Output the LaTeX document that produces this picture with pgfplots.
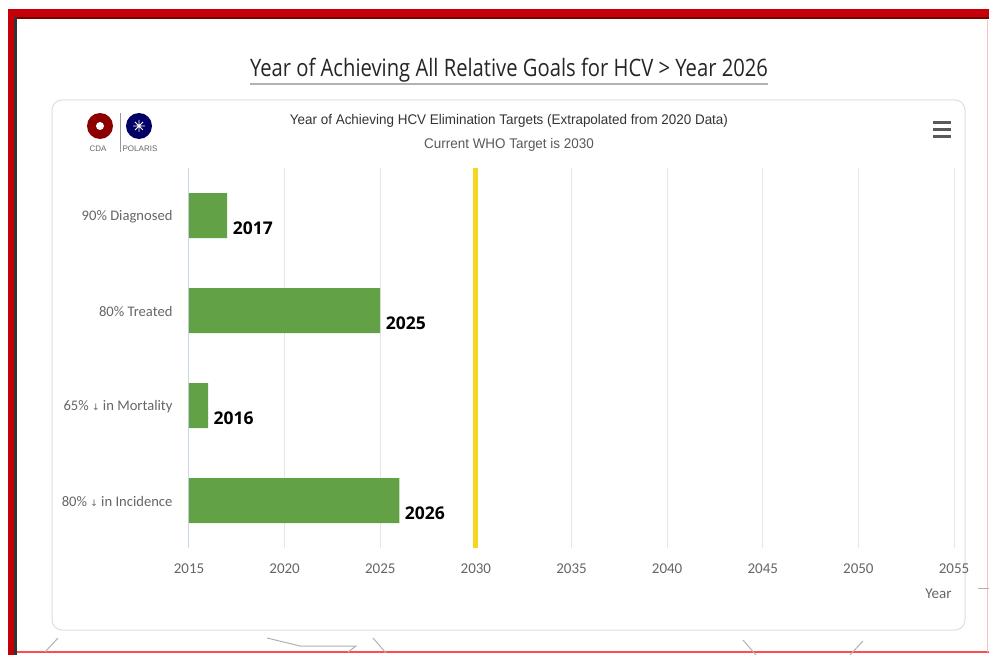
\documentclass[border=0pt]{standalone}
\usepackage{pgfplots}
\pgfplotsset{compat=1.18}
\usepackage{fontspec}
\setmainfont{Carlito}
\newfontfamily\opensans{Open Sans}
\newfontfamily\arial{Liberation Sans}
\newfontfamily\dejavu{DejaVu Sans}
\definecolor{barg}{RGB}{99,161,70}
\definecolor{tickgray}{RGB}{102,102,102}
\definecolor{gridc}{RGB}{230,230,230}
\definecolor{axisc}{RGB}{204,214,235}
\definecolor{whoy}{RGB}{245,215,30}
\definecolor{frred}{RGB}{196,0,8}
\definecolor{frdark}{RGB}{120,0,0}
\newcommand{\dn}{{\dejavu\fontsize{9pt}{9pt}\selectfont ↓}}
\begin{document}
\begin{tikzpicture}[x=1pt,y=-1pt]
\path[use as bounding box, fill=white] (0,0) rectangle (989,655);
% red frame
\fill[frred] (8,9) rectangle (989,19);
\fill[frdark] (17,17) rectangle (989,19);
\fill[frred] (8,9) rectangle (17,655);
\fill[black!80] (14,17) rectangle (17,655);
\draw[red!70, line width=1.5pt] (17,652) -- (989,652);
\draw[red!25, line width=1pt] (987,20) -- (987,652);
% faint decorations
\begin{scope}[black!30, line width=1pt]
\draw (45,652) -- (58,638);
\draw (267,638) -- (300,646) -- (356,646) -- (348,652);
\draw (373,638) -- (386,653);
\draw (743,640) -- (756,655);
\draw (850,655) -- (863,641);
\draw (978,588) -- (989,588);
\end{scope}
% title
\node[text=black!85, font=\opensans\fontsize{24pt}{24pt}\selectfont] at (509,70) {\scalebox{0.842}[1]{Year of Achieving All Relative Goals for HCV > Year 2026}};
\draw[black!30, line width=2pt] (250,84) -- (768,84);
% card
\draw[black!13, line width=1pt, rounded corners=10pt] (52,100) rectangle (965,630);
% logos
\fill[red!55!black] (100,126) circle (13);
\fill[white] (100,126) circle (4);
\draw[black!40] (120,113) -- (120,152);
\fill[blue!40!black] (139,126) circle (13);
\draw[white, line width=0.8pt] (133,126) -- (145,126) (139,120) -- (139,132) (135,122) -- (143,130) (135,130) -- (143,122);
\node[text=black!60, font=\arial\fontsize{8pt}{8pt}\selectfont] at (98,149) {CDA};
\node[text=black!60, font=\arial\fontsize{8pt}{8pt}\selectfont] at (140,149) {POLARIS};
% hamburger
\foreach \yy in {123,130,137} \draw[black!65, line width=3pt] (933,\yy) -- (951,\yy);
% chart title
\node[text=black!80, font=\arial\fontsize{14pt}{14pt}\selectfont] at (509,121) {\scalebox{0.96}[1]{Year of Achieving HCV Elimination Targets (Extrapolated from 2020 Data)}};
\node[text=black!65, font=\arial\fontsize{14pt}{14pt}\selectfont] at (509,145) {\scalebox{0.96}[1]{Current WHO Target is 2030}};
\begin{axis}[
  at={(189pt,-548pt)}, anchor=south west,
  scale only axis, width=765pt, height=380pt,
  xmin=0, xmax=40, ymin=-0.5, ymax=3.5,
  y dir=reverse,
  x filter/.expression={x-2015},
  axis line style={draw=none},
  tick style={draw=none},
  xtick={0,5,...,40},
  xticklabels={2015,2020,2025,2030,2035,2040,2045,2050,2055},
  xmajorgrids, grid style={gridc, line width=1pt},
  xticklabel style={text=tickgray, font=\fontsize{15pt}{15pt}\selectfont, yshift=-12pt},
  ytick={0,1,2,3},
  yticklabels={90\% Diagnosed, 80\% Treated, 65\% \dn{} in Mortality, 80\% \dn{} in Incidence},
  yticklabel style={text=tickgray, font=\fontsize{14.6pt}{14.6pt}\selectfont, xshift=-13pt, yshift=-1pt},
  clip=false,
]
\draw[axisc, line width=1pt] (axis cs:0,-0.5) -- (axis cs:0,3.5);
\addplot[xbar, bar width=45pt, bar shift=0pt, fill=barg, draw=none,
  point meta=explicit symbolic, nodes near coords,
  every node near coord/.append style={anchor=west, xshift=2pt, yshift=-13pt, text=black, font=\opensans\bfseries\fontsize{17.5pt}{17.5pt}\selectfont}]
  coordinates {(2017,0)[2017] (2025,1)[2025] (2016,2)[2016] (2026,3)[2026]};
\addplot[whoy, line width=5pt, mark=none] coordinates {(2030,-0.5) (2030,3.5)};
\end{axis}
\node[text=tickgray, font=\fontsize{15pt}{15pt}\selectfont, anchor=east] at (955,594) {Year};
\end{tikzpicture}
\end{document}
